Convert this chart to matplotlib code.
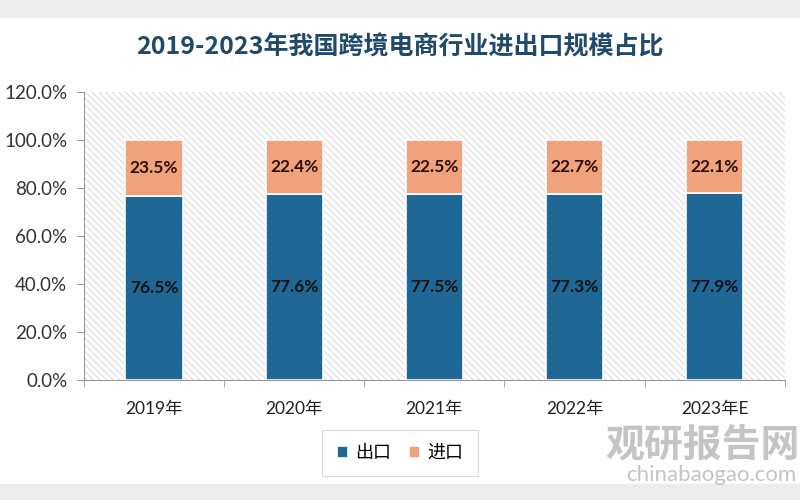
import matplotlib.pyplot as plt
import matplotlib.patches as mpatches
from matplotlib.ticker import FuncFormatter

plt.rcParams['font.family'] = ['Lato', 'Noto Sans CJK SC', 'DejaVu Sans']
plt.rcParams['hatch.color'] = '#dcdcdc'
plt.rcParams['hatch.linewidth'] = 0.8

years = ['2019年', '2020年', '2021年', '2022年', '2023年E']
export_share = [76.5, 77.6, 77.5, 77.3, 77.9]
import_share = [23.5, 22.4, 22.5, 22.7, 22.1]

c_export = '#1f6896'
c_import = '#f0a27c'

fig = plt.figure(figsize=(8, 5), dpi=100)
fig.patch.set_facecolor('white')

# grey shadow bands at the top and bottom of the picture
fig.patches.append(mpatches.Rectangle((0, 0.966), 1, 0.034, transform=fig.transFigure,
                                      color='#ececec', zorder=0))
fig.patches.append(mpatches.Rectangle((0, 0), 1, 0.032, transform=fig.transFigure,
                                      color='#ececec', zorder=0))

ax = fig.add_axes([0.105, 0.24, 0.876, 0.576])
ax.set_facecolor('white')
bg = mpatches.Rectangle((0, 0), 1, 1, transform=ax.transAxes, facecolor='white',
                        edgecolor='#dcdcdc', hatch='\\\\\\\\\\', linewidth=0, zorder=0)
ax.add_patch(bg)

x = range(len(years))
w = 0.41
b1 = ax.bar(x, export_share, width=w, color=c_export, edgecolor='white',
            linewidth=1.2, label='出口', zorder=2)
b2 = ax.bar(x, import_share, width=w, bottom=export_share, color=c_import,
            edgecolor='white', linewidth=1.2, label='进口', zorder=2)

for i in x:
    ax.text(i, export_share[i] / 2, f'{export_share[i]:.1f}%', ha='center', va='center',
            fontsize=12.5, fontweight='bold', color='#111111', zorder=3)
    ax.text(i, export_share[i] + import_share[i] / 2, f'{import_share[i]:.1f}%',
            ha='center', va='center', fontsize=12.5, fontweight='bold',
            color='#2a0f0a', zorder=3)

ax.set_xlim(-0.5, len(years) - 0.5)
ax.set_ylim(0, 120)
ax.set_yticks(range(0, 121, 20))
ax.yaxis.set_major_formatter(FuncFormatter(lambda v, p: f'{v:.1f}%'))
ax.set_xticks(list(x))
ax.set_xticklabels(years)
ax.set_xticks([i + 0.5 for i in range(-1, len(years))], minor=True)
ax.tick_params(axis='x', which='major', length=0, pad=15, labelsize=12.5, colors='#222222')
ax.tick_params(axis='x', which='minor', length=5, color='#999999')
ax.tick_params(axis='y', length=5, color='#999999', labelsize=13.5, pad=7)
for t in ax.get_yticklabels():
    t.set_color('#333333')

for s in ['top', 'right']:
    ax.spines[s].set_visible(False)
ax.spines['left'].set_color('#999999')
ax.spines['bottom'].set_color('#999999')

fig.text(0.5, 0.905, '2019-2023年我国跨境电商行业进出口规模占比', ha='center', va='center',
         fontsize=18, fontweight='bold', color='#1f4a6b',
         family=['Noto Sans CJK SC', 'DejaVu Sans'])

leg = fig.legend(handles=[b1, b2], labels=['出口', '进口'], loc='center',
                 bbox_to_anchor=(0.5, 0.094), ncol=2, frameon=True, fontsize=13,
                 handlelength=0.6, handleheight=0.6, handletextpad=0.4,
                 columnspacing=1.0, borderpad=0.5)
leg.get_frame().set_edgecolor('#d0d0d0')
leg.get_frame().set_linewidth(0.8)
leg.get_frame().set_boxstyle('square')

# watermark
fig.text(1.0, 0.11, '观研报告网', ha='right', va='center', fontsize=28,
         fontweight='bold', color='#c4c4c4', family=['Noto Sans CJK SC', 'DejaVu Sans'])
fig.text(0.995, 0.05, 'chinabaogao.com', ha='right', va='center', fontsize=16,
         color='#c4c4c4')

fig.savefig('out.png', dpi=100)
